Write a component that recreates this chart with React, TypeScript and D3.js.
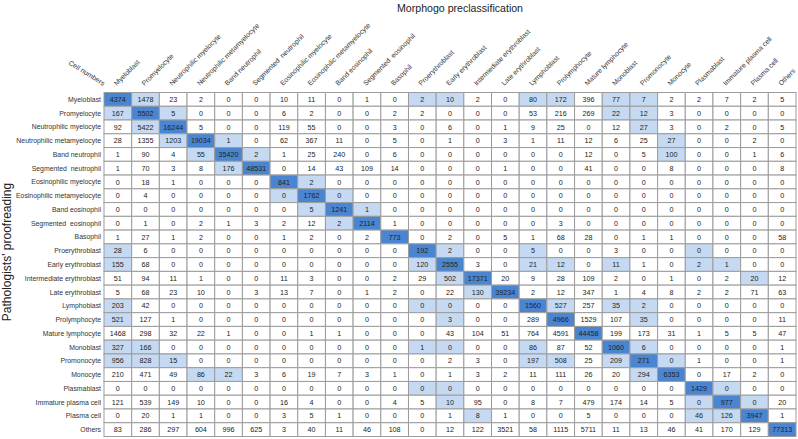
import React from 'react';
import * as d3 from 'd3';

const categories: string[] = [
  'Myeloblast', 'Promyelocyte', 'Neutrophilic myelocyte', 'Neutrophilic metamyelocyte',
  'Band neutrophil', 'Segmented\u00A0 neutrophil', 'Eosinophilic myelocyte', 'Eosinophilic metamyelocyte',
  'Band eosinophil', 'Segmented\u00A0 eosinophil', 'Basophil', 'Proerythroblast', 'Early erythroblast',
  'Intermediate erythroblast', 'Late erythroblast', 'Lymphoblast', 'Prolymphocyte', 'Mature lymphocyte',
  'Monoblast', 'Promonocyte', 'Monocyte', 'Plasmablast', 'Immature plasma cell', 'Plasma cell', 'Others',
];

const counts: number[][] = [
  [4374, 1478, 23, 2, 0, 0, 10, 11, 0, 1, 0, 2, 10, 2, 0, 80, 172, 396, 77, 7, 2, 2, 7, 2, 5],
  [167, 5502, 5, 0, 0, 0, 6, 2, 0, 0, 2, 2, 0, 0, 0, 53, 216, 269, 22, 12, 3, 0, 0, 0, 0],
  [92, 5422, 16244, 5, 0, 0, 119, 55, 0, 0, 3, 0, 6, 0, 1, 9, 25, 0, 12, 27, 3, 0, 2, 0, 5],
  [28, 1355, 1203, 19034, 1, 0, 62, 367, 11, 0, 5, 0, 1, 0, 3, 1, 11, 12, 6, 25, 27, 0, 0, 2, 0],
  [1, 90, 4, 55, 35420, 2, 1, 25, 240, 0, 6, 0, 0, 0, 0, 0, 0, 12, 0, 5, 100, 0, 0, 1, 6],
  [1, 70, 3, 8, 176, 48531, 0, 14, 43, 109, 14, 0, 0, 0, 1, 0, 0, 41, 0, 0, 8, 0, 0, 0, 8],
  [0, 18, 1, 0, 0, 0, 841, 2, 0, 0, 0, 0, 0, 0, 0, 0, 0, 0, 0, 0, 0, 0, 0, 0, 0],
  [0, 4, 0, 0, 0, 0, 0, 1762, 0, 0, 0, 0, 0, 0, 0, 0, 0, 0, 0, 0, 0, 0, 0, 0, 0],
  [0, 0, 0, 0, 0, 0, 0, 5, 1241, 1, 0, 0, 0, 0, 0, 0, 0, 0, 0, 0, 0, 0, 0, 0, 0],
  [0, 1, 0, 2, 1, 3, 2, 12, 2, 2114, 1, 0, 0, 0, 0, 0, 3, 0, 0, 0, 0, 0, 0, 0, 0],
  [1, 27, 1, 2, 0, 0, 1, 2, 0, 2, 773, 0, 2, 0, 5, 1, 68, 28, 0, 1, 1, 0, 0, 0, 58],
  [28, 6, 0, 0, 0, 0, 0, 0, 0, 0, 0, 192, 2, 0, 0, 5, 0, 0, 3, 0, 0, 0, 0, 0, 0],
  [155, 68, 0, 0, 0, 0, 0, 0, 0, 0, 0, 120, 2555, 3, 0, 21, 12, 0, 11, 1, 0, 2, 1, 0, 0],
  [51, 94, 11, 1, 0, 0, 11, 3, 0, 0, 2, 29, 502, 17371, 20, 9, 28, 109, 2, 0, 1, 0, 2, 20, 12],
  [5, 68, 23, 10, 0, 3, 13, 7, 0, 1, 2, 0, 22, 130, 39234, 2, 12, 347, 1, 4, 8, 2, 2, 71, 63],
  [203, 42, 0, 0, 0, 0, 0, 0, 0, 0, 0, 0, 0, 0, 0, 1560, 527, 257, 35, 2, 0, 0, 0, 0, 0],
  [521, 127, 1, 0, 0, 0, 0, 0, 0, 0, 0, 0, 3, 0, 0, 289, 4966, 1529, 107, 35, 0, 0, 0, 0, 11],
  [1468, 298, 32, 22, 1, 0, 0, 1, 1, 0, 0, 0, 43, 104, 51, 764, 4591, 44458, 199, 173, 31, 1, 5, 5, 47],
  [327, 166, 0, 0, 0, 0, 0, 0, 0, 0, 0, 1, 0, 0, 0, 86, 87, 52, 1060, 6, 0, 0, 0, 0, 1],
  [956, 828, 15, 0, 0, 0, 0, 0, 0, 0, 0, 0, 2, 3, 0, 197, 508, 25, 209, 271, 0, 1, 0, 0, 1],
  [210, 471, 49, 86, 22, 3, 6, 19, 7, 3, 1, 0, 1, 3, 2, 11, 111, 26, 20, 294, 6353, 0, 17, 2, 0],
  [0, 0, 0, 0, 0, 0, 0, 0, 0, 0, 0, 0, 0, 0, 0, 0, 0, 0, 0, 0, 0, 1429, 0, 0, 0],
  [121, 539, 149, 10, 0, 0, 16, 4, 0, 0, 4, 5, 10, 95, 0, 8, 7, 479, 174, 14, 5, 0, 977, 0, 20],
  [0, 20, 1, 1, 0, 0, 3, 5, 1, 0, 0, 0, 1, 8, 1, 0, 0, 5, 0, 0, 0, 46, 126, 3947, 1],
  [83, 286, 297, 604, 996, 625, 3, 40, 11, 46, 108, 0, 12, 122, 3521, 58, 1115, 5711, 11, 13, 46, 41, 170, 129, 77313],
];

// off-diagonal cells highlighted in light blue: [row, column]
const lightCells: [number, number][] = [
  [0, 1], [0, 11], [0, 12], [0, 15], [0, 16], [0, 18], [0, 19],
  [1, 0], [1, 2], [1, 18], [1, 19],
  [2, 1], [2, 19],
  [3, 2], [3, 4], [3, 20],
  [4, 3], [4, 5], [4, 20],
  [5, 4],
  [6, 7],
  [7, 6], [7, 8],
  [8, 7], [8, 9],
  [9, 8],
  [11, 0], [11, 12], [11, 15], [11, 21],
  [12, 0], [12, 11], [12, 15], [12, 16], [12, 18], [12, 21], [12, 22],
  [13, 12], [13, 23],
  [14, 13],
  [15, 0], [15, 11], [15, 12], [15, 16], [15, 18], [15, 19],
  [16, 0], [16, 12], [16, 19],
  [18, 0], [18, 1], [18, 11], [18, 12], [18, 15], [18, 19],
  [19, 0], [19, 1], [19, 2], [19, 15], [19, 16], [19, 18], [19, 20],
  [20, 3], [20, 4], [20, 19],
  [21, 11], [21, 12], [21, 22],
  [22, 12], [22, 21], [22, 23],
  [23, 13], [23, 21], [23, 22],
];

const title = 'Morphogo preclassification';
const yTitle = "Pathologists' proofreading";
const cornerLabel = 'Cell numbers';

const W = 798;
const H = 439;
const LEFT = 104;
const RIGHT = 796;
const TOP = 92.5;
const BOTTOM = 436.5;
const FONT = 'Liberation Sans, Arial, Helvetica, sans-serif';

export default function App() {
  const idx = d3.range(categories.length);
  const x = d3.scaleBand<number>().domain(idx).range([LEFT, RIGHT]);
  const y = d3.scaleBand<number>().domain(idx).range([TOP, BOTTOM]);
  const lightSet = new Set(lightCells.map(([r, c]) => `${r}-${c}`));
  const fillFor = (r: number, c: number) =>
    r === c ? '#4a85d2' : lightSet.has(`${r}-${c}`) ? '#c5daf2' : '#ffffff';

  return (
    <svg width={W} height={H} style={{ position: 'absolute', left: 0, top: 0, background: '#fff' }} fontFamily={FONT}>
      <text x={397} y={12} fontSize={10.6} fill="#222">{title}</text>
      <text transform={`translate(11,252) rotate(-90)`} textAnchor="middle" fontSize={12} fill="#222">{yTitle}</text>
      <text transform={`translate(103,86) rotate(32)`} textAnchor="end" fontSize={7} fill="#333">{cornerLabel}</text>
      {categories.map((c, i) => (
        <text key={`cl${i}`} transform={`translate(${x(i)! + x.bandwidth() / 2 - 1},86) rotate(-45)`} fontSize={6.9} fill="#333" style={{ whiteSpace: 'pre' }}>{c}</text>
      ))}
      {categories.map((c, i) => (
        <text key={`rl${i}`} x={101} y={y(i)! + y.bandwidth() / 2 + 2.5} textAnchor="end" fontSize={6.9} fill="#333" style={{ whiteSpace: 'pre' }}>{c}</text>
      ))}
      {counts.map((row, r) => row.map((v, c) => (
        <rect key={`c${r}-${c}`} x={x(c)} y={y(r)} width={x.bandwidth()} height={y.bandwidth()}
          fill={fillFor(r, c)} stroke="#9c9c9c" strokeWidth={1} />
      )))}
      {counts.map((row, r) => row.map((v, c) => (
        <text key={`t${r}-${c}`} x={x(c)! + x.bandwidth() / 2} y={y(r)! + y.bandwidth() / 2 + 2.6}
          textAnchor="middle" fontSize={7.2} fill="#222">{v}</text>
      )))}
    </svg>
  );
}
